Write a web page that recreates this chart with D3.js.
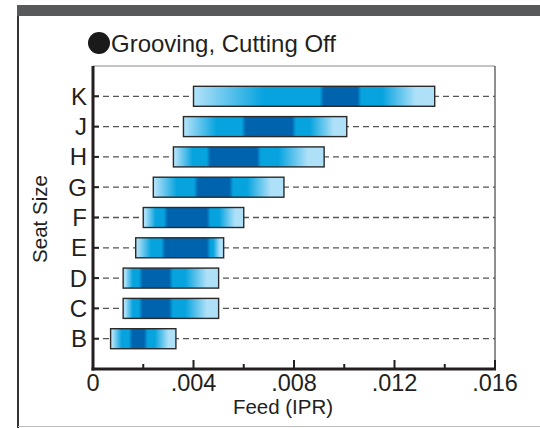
<!DOCTYPE html>
<html><head><meta charset="utf-8">
<script src="https://cdn.jsdelivr.net/npm/d3@7"></script>
<style>body{margin:0;background:#fff;}svg{display:block;font-family:"Liberation Sans",Arial,sans-serif;}</style>
</head><body>
<script>
const categories = ["B","C","D","E","F","G","H","J","K"];
const feedMin    = [0.0007,0.0012,0.0012,0.0017,0.0020,0.0024,0.0032,0.0036,0.0040];
const feedMax    = [0.0033,0.0050,0.0050,0.0052,0.0060,0.0076,0.0092,0.0101,0.0136];
const darkStart  = [0.0015,0.0019,0.0019,0.0028,0.0029,0.0041,0.0046,0.0060,0.0091];
const darkEnd    = [0.0021,0.0031,0.0031,0.0046,0.0046,0.0055,0.0066,0.0080,0.0106];
const xTicks = [0,0.004,0.008,0.012,0.016];
const xTickLabels = ["0",".004",".008",".012",".016"];
const minorTicks = [0.002,0.006,0.010,0.014];

const W=540,H=428;
const svg=d3.select("body").append("svg").attr("width",W).attr("height",H);
const L=93,R=495,T=66,B=369;
const x=d3.scaleLinear().domain([0,0.016]).range([L,R]);
const y=d3.scalePoint().domain(categories).range([B,T]).padding(1);

// frame
svg.append("rect").attr("x",17).attr("y",5).attr("width",523).attr("height",11).attr("fill","#58595b");
svg.append("line").attr("x1",18).attr("x2",18).attr("y1",16).attr("y2",428).attr("stroke","#333").attr("stroke-width",2);
svg.append("line").attr("x1",18).attr("x2",540).attr("y1",426.5).attr("y2",426.5).attr("stroke","#bbb").attr("stroke-width",1);

// title
svg.append("circle").attr("cx",99).attr("cy",43).attr("r",11).attr("fill","#1a1a1a");
svg.append("text").attr("x",111).attr("y",52).attr("font-size",24).attr("fill","#231f20").text("Grooving, Cutting Off");

// plot border
svg.append("line").attr("x1",L).attr("x2",R).attr("y1",T).attr("y2",T).attr("stroke","#8a8a8a").attr("stroke-width",1.2);
svg.append("line").attr("x1",R).attr("x2",R).attr("y1",T).attr("y2",B).attr("stroke","#444").attr("stroke-width",1.2);

// dashed guide lines
svg.append("g").selectAll("line").data(categories).join("line")
  .attr("x1",L).attr("x2",R).attr("y1",d=>y(d)).attr("y2",d=>y(d))
  .attr("stroke","#555").attr("stroke-width",1.3).attr("stroke-dasharray","6,4");
svg.append("g").selectAll("line").data(categories).join("line")
  .attr("x1",L).attr("x2",L+6).attr("y1",d=>y(d)).attr("y2",d=>y(d))
  .attr("stroke","#222").attr("stroke-width",2);

// gradients
const light="#aee0f8", mid="#06a3df", dark="#0063ad";
const defs=svg.append("defs");
categories.forEach((c,i)=>{
  const x0=x(feedMin[i]), x1=x(feedMax[i]), d0=x(darkStart[i]), d1=x(darkEnd[i]);
  const g=defs.append("linearGradient").attr("id","g"+c).attr("gradientUnits","userSpaceOnUse")
    .attr("x1",x0).attr("x2",x1).attr("y1",0).attr("y2",0);
  const f=v=>Math.max(0,Math.min(1,(v-x0)/(x1-x0)));
  const stops=[
    [0,light],[f(x0+2),light],
    [f(x0+(d0-x0)*0.55),mid],[f(d0-2),mid],[f(d0+2),dark],
    [f(d1-2),dark],[f(d1+2),mid],[f(d1+(x1-d1)*0.3),mid],
    [f(d1+(x1-d1)*0.75),light],[1,light]
  ];
  g.selectAll("stop").data(stops).join("stop").attr("offset",d=>d[0]).attr("stop-color",d=>d[1]);
});

// bars
svg.append("g").selectAll("rect").data(categories).join("rect")
  .attr("x",(d,i)=>x(feedMin[i])).attr("width",(d,i)=>x(feedMax[i])-x(feedMin[i]))
  .attr("y",d=>y(d)-10).attr("height",20)
  .attr("fill",d=>"url(#g"+d+")").attr("stroke","#2a2a2a").attr("stroke-width",1.4);

// axes
svg.append("line").attr("x1",L).attr("x2",L).attr("y1",T).attr("y2",B+1.5).attr("stroke","#231f20").attr("stroke-width",3);
svg.append("line").attr("x1",L-1.5).attr("x2",R+1).attr("y1",B).attr("y2",B).attr("stroke","#231f20").attr("stroke-width",3);
svg.append("g").selectAll("line").data(xTicks.slice(1)).join("line")
  .attr("x1",d=>x(d)).attr("x2",d=>x(d)).attr("y1",B).attr("y2",B-9).attr("stroke","#231f20").attr("stroke-width",2);
svg.append("g").selectAll("line").data(minorTicks).join("line")
  .attr("x1",d=>x(d)).attr("x2",d=>x(d)).attr("y1",B).attr("y2",B-5).attr("stroke","#231f20").attr("stroke-width",2);
svg.append("g").selectAll("text").data(xTicks).join("text")
  .attr("x",d=>x(d)).attr("y",391).attr("text-anchor","middle").attr("font-size",23.5).attr("fill","#231f20")
  .text((d,i)=>xTickLabels[i]);
svg.append("g").selectAll("text").data(categories).join("text")
  .attr("x",87).attr("y",d=>y(d)+8.5).attr("text-anchor","end").attr("font-size",24).attr("fill","#231f20").text(d=>d);

svg.append("text").attr("x",283).attr("y",414).attr("text-anchor","middle").attr("font-size",20.5).attr("fill","#231f20").text("Feed (IPR)");
svg.append("text").attr("transform","translate(47,219) rotate(-90)").attr("text-anchor","middle").attr("font-size",20.5).attr("fill","#231f20").text("Seat Size");
</script>
</body></html>
